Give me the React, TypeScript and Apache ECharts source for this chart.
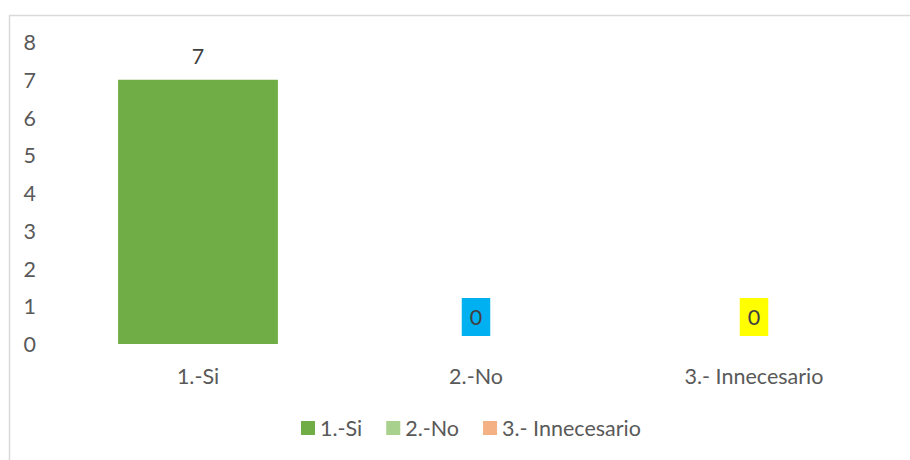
import React, { useEffect, useRef } from "react";
import * as echarts from "echarts";

const categories = ["1.-Si", "2.-No", "3.- Innecesario"];
const seriesNames = ["1.-Si", "2.-No", "3.- Innecesario"];
const siValues = [7, null, null];
const noValues = [null, 0, null];
const innValues = [null, null, 0];
const yTicks = { min: 0, max: 8, interval: 1 };

const TEXT = "#595959";
const FONT = "Lato";
const FS = 21.5;

export default function App() {
  const ref = useRef<HTMLDivElement>(null);
  useEffect(() => {
    document.body.style.margin = "0";
    const chart = echarts.init(ref.current!, null, { renderer: "svg" });
    const baseLabel = { show: true, position: "top", color: "#404040", fontFamily: FONT, fontSize: FS };
    chart.setOption({
      animation: false,
      textStyle: { fontFamily: FONT },
      graphic: [
        {
          type: "rect",
          left: 7,
          top: 13,
          shape: { width: 1000, height: 1000 },
          style: { fill: "none", stroke: "#d9d9d9", lineWidth: 1.5 },
          silent: true,
        },
      ],
      grid: { left: 59, right: 17, top: 42, bottom: 116 },
      legend: {
        bottom: 16,
        left: 296,
        itemWidth: 14,
        itemHeight: 14,
        itemGap: 24,
        icon: "rect",
        textStyle: { color: TEXT, fontSize: FS, fontFamily: FONT },
        data: seriesNames,
      },
      xAxis: {
        type: "category",
        data: categories,
        axisLine: { show: false },
        axisTick: { show: false },
        axisLabel: { color: TEXT, fontSize: FS, fontFamily: FONT, margin: 21 },
      },
      yAxis: {
        type: "value",
        min: yTicks.min,
        max: yTicks.max,
        interval: yTicks.interval,
        axisLine: { show: false },
        axisTick: { show: false },
        splitLine: { show: false },
        axisLabel: { color: TEXT, fontSize: FS, fontFamily: FONT, margin: 23 },
      },
      series: [
        {
          name: seriesNames[0],
          type: "bar",
          data: siValues,
          barWidth: "57.5%",
          barGap: "-100%",
          itemStyle: { color: "#70AD47" },
          label: { ...baseLabel, distance: 13 },
        },
        {
          name: seriesNames[1],
          type: "bar",
          data: noValues,
          barWidth: "57.5%",
          barGap: "-100%",
          itemStyle: { color: "#A9D18E" },
          label: { ...baseLabel, distance: 8, backgroundColor: "#00B0F0", padding: [8, 8, 8, 8] },
        },
        {
          name: seriesNames[2],
          type: "bar",
          data: innValues,
          barWidth: "57.5%",
          barGap: "-100%",
          itemStyle: { color: "#F4B183" },
          label: { ...baseLabel, distance: 8, backgroundColor: "#FFFF00", padding: [8, 8, 8, 8] },
        },
      ],
    });
    return () => chart.dispose();
  }, []);
  return <div ref={ref} style={{ width: 910, height: 460 }} />;
}
